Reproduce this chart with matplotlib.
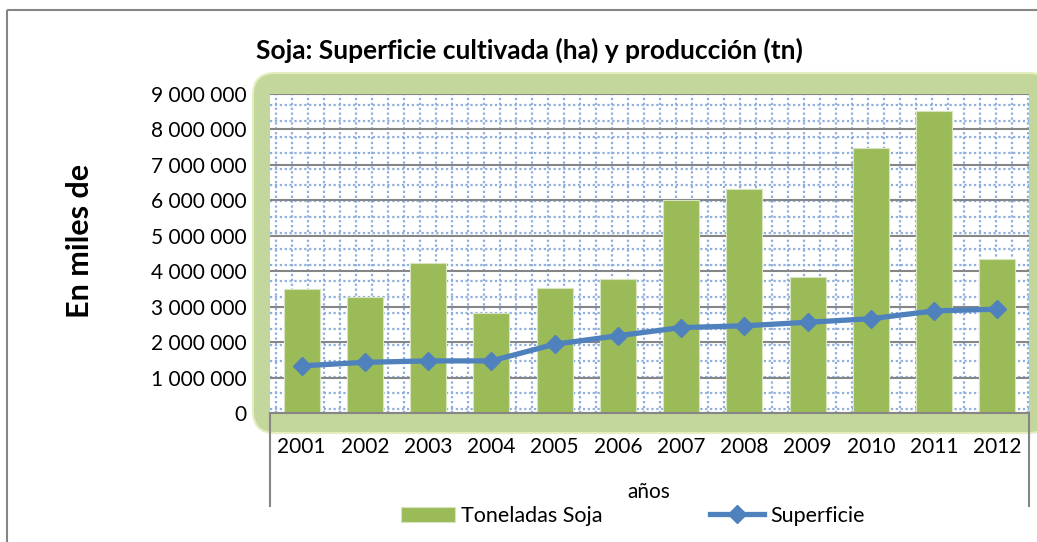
import numpy as np
import matplotlib
matplotlib.use("Agg")
from matplotlib import pyplot as plt
from matplotlib.patches import FancyBboxPatch, Rectangle

plt.rcParams['font.family'] = ['Lato', 'DejaVu Sans']

years = ['2001', '2002', '2003', '2004', '2005', '2006',
         '2007', '2008', '2009', '2010', '2011', '2012']
toneladas = [3500000, 3270000, 4230000, 2830000, 3520000, 3780000,
             6010000, 6310000, 3840000, 7470000, 8520000, 4350000]
superficie = [1330000, 1430000, 1470000, 1470000, 1940000, 2180000,
              2410000, 2460000, 2560000, 2660000, 2880000, 2930000]
yticks = np.arange(0, 9000001, 1000000)

W, H = 1037, 542
fig = plt.figure(figsize=(W / 100, H / 100), dpi=100)

# background layer in pixel coords
bg = fig.add_axes([0, 0, 1, 1], zorder=-1)
bg.set_xlim(0, W)
bg.set_ylim(H, 0)
bg.axis('off')
bg.add_patch(Rectangle((7, 10), 1100, 600, fill=False, edgecolor='#868686', lw=1.5))
bg.add_patch(FancyBboxPatch((272, 92), 760, 322,
                            boxstyle='round,pad=19,rounding_size=22',
                            facecolor='#C3D69B', edgecolor='#E4EDBE', lw=1.5))

# plot area
left, top, right, bottom = 270, 94, 1029, 413
ax = fig.add_axes([left / W, 1 - bottom / H, (right - left) / W, (bottom - top) / H])
ax.set_facecolor('white')

# dotted grid pattern fill
pw, ph = right - left, bottom - top
for px in np.arange(6, pw, 16):
    ax.plot([px / pw, px / pw], [0, 1], transform=ax.transAxes, color='#8EAEDB',
            lw=1.6, ls=(0, (1, 1.2)), zorder=0.5)
for py in np.arange(11, ph, 16):
    ax.plot([0, 1], [1 - py / ph, 1 - py / ph], transform=ax.transAxes, color='#8EAEDB',
            lw=1.6, ls=(0, (1, 1.2)), zorder=0.5)

x = np.arange(len(years))
bars = ax.bar(x, toneladas, width=0.57, color='#9BBB59', edgecolor='#D7E4BD', lw=0.8,
              zorder=2, label='Toneladas Soja')
line, = ax.plot(x, superficie, color='#4F81BD', lw=3.8, marker='D', markersize=9.5,
                zorder=3, label='Superficie')

ax.set_xlim(-0.5, len(years) - 0.5)
ax.set_ylim(0, 9000000)
ax.set_yticks(yticks)
ax.set_yticklabels(['{:,}'.format(v).replace(',', ' ') for v in yticks])
ax.set_xticks(x)
ax.set_xticklabels(years)
ax.tick_params(axis='both', length=0, labelsize=15)
ax.tick_params(axis='y', pad=17)
ax.tick_params(axis='x', pad=17)
ax.yaxis.grid(True, color='#868686', lw=1.5, zorder=1)
ax.set_axisbelow(True)
for s in ['left', 'right', 'top']:
    ax.spines[s].set_visible(False)
ax.spines['bottom'].set_color('#868686')
ax.spines['bottom'].set_linewidth(1.5)
ax.spines['bottom'].set_zorder(4)

# multi-level category box edges
ext = -(506 - bottom) / ph
for xe in [0, 1]:
    ax.plot([xe, xe], [0, ext], transform=ax.transAxes, color='#868686', lw=1.5,
            clip_on=False, zorder=4)

fig.text(649 / W, 1 - 492 / H, 'años', ha='center', va='center', fontsize=15)
fig.text(529 / W, 1 - 50 / H, 'Soja: Superficie cultivada (ha) y producción (tn)',
         ha='center', va='center', fontsize=19, fontweight='bold')
fig.text(80 / W, 1 - 241 / H, 'En miles de', ha='center', va='center', rotation=90,
         fontsize=22, fontweight='bold')

fig.legend(handles=[bars, line], loc='center', bbox_to_anchor=(633 / W, 1 - 516 / H),
           ncol=2, frameon=False, fontsize=15.5, handlelength=2.5, handletextpad=0.3,
           columnspacing=5)

fig.savefig('out.png', dpi=100)
